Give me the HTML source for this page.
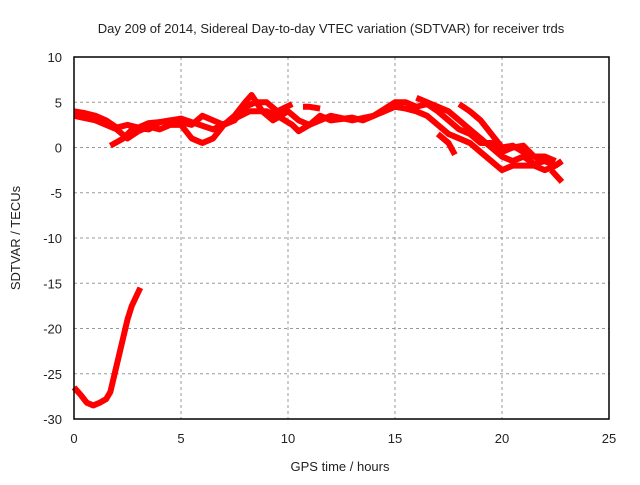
<!DOCTYPE html>
<html><head><meta charset="utf-8"><style>
body{margin:0;background:#fff}
svg text{font-family:"Liberation Sans",sans-serif;font-size:13px;fill:#222}
</style></head><body>
<svg id="c" width="640" height="480">
<text x="331" y="33" text-anchor="middle">Day 209 of 2014, Sidereal Day-to-day VTEC variation (SDTVAR) for receiver trds</text>
<text x="340" y="471" text-anchor="middle">GPS time / hours</text>
<text x="20" y="238" text-anchor="middle" transform="rotate(-90 20 238)">SDTVAR / TECUs</text>
<g id="grid"></g><g id="marks"></g>
<rect x="74" y="57" width="535" height="362" fill="none" stroke="#000" stroke-width="1.5"/>
</svg>
<script>
const xTicks=[0,5,10,15,20,25];
const yTicks=[10,5,0,-5,-10,-15,-20,-25,-30];
const trackLow=[[0,-26.5],[0.3,-27.3],[0.6,-28.2],[0.9,-28.5],[1.2,-28.2],[1.5,-27.8],[1.7,-27],[1.9,-25],[2.1,-23],[2.3,-21],[2.5,-19],[2.7,-17.5],[3.1,-15.5]];
const track1=[[0,4],[0.5,3.8],[1,3.5],[1.5,3],[2,2.2],[2.5,2.5],[3,2.2],[3.5,2.7],[4,2.8],[4.5,3],[5,2.8],[5.5,2.5],[6,3.5],[6.5,3],[7,2.5],[7.5,3.5],[8,5],[8.3,5.8],[8.8,4],[9.3,3],[10,4],[10.5,3],[11,2.5],[11.5,3.5],[12,3],[13,3.3],[13.5,3],[14,3.5],[14.5,4],[15,4.5],[15.5,4.3],[16,4],[16.5,3.5],[17,2.5],[17.5,1.5],[18,1],[18.5,0.5],[19,-0.5],[19.5,-1.5],[20,-2.5],[20.5,-2],[21,-2],[21.5,-2],[22,-2.5],[22.5,-2],[22.8,-1.5]];
const track2=[[0,3.5],[1,3],[1.5,2.5],[2,2],[2.5,1],[3,1.8],[3.5,2.3],[4,2],[4.5,2.5],[5,2.5],[5.5,1],[6,0.5],[6.5,1],[7,2.5],[7.5,3],[8,4.5],[8.5,5],[9,5],[9.5,4],[10.2,4.8]];
const track3=[[1.7,0.2],[2.3,1],[2.8,2.2],[3.5,2],[4,2.8],[5,3.2],[6.5,2],[8.2,4],[9,4],[9.5,3.5],[10.2,2.5],[10.5,1.8],[11,2.5],[12,3.5],[13,3],[14,3.5],[15,5],[15.5,5],[16,4.5],[16.5,4.8],[17,4],[17.5,3],[18,2],[18.5,1.5],[19,0.5],[19.5,0.5],[20,-0.5],[20.5,0],[21,0.2],[21.5,-1],[22,-1],[22.5,-1.5]];
const track4=[[16,5.5],[16.5,5],[17,4.5],[17.5,4],[18,3],[18.5,2],[19,1],[19.5,0],[20,-1],[20.5,-1.5],[21,-1],[21.5,-1.8],[22,-1.5],[22.5,-2],[22.8,-1.5]];
const track5=[[18,4.8],[18.5,4],[19,3],[19.5,1.5],[20,0],[20.5,0.2],[21,-0.5],[22,-1.5]];
const track6=[[17,1.5],[17.5,0.5],[17.8,-0.8]];
const track7=[[22.3,-2.5],[22.8,-3.8]];
const track8=[[10.7,4.5],[11,4.5],[11.5,4.3]];
const X=v=>74+v*535/25, Y=v=>57+(10-v)*362/40;
const NS='http://www.w3.org/2000/svg';
const svg=document.getElementById('c'),g=document.getElementById('grid'),m=document.getElementById('marks');
function mk(t,a,p){const e=document.createElementNS(NS,t);for(const k in a)e.setAttribute(k,a[k]);p.appendChild(e);return e;}
xTicks.forEach(t=>{
 if(t>0&&t<25){const l=mk('line',{x1:X(t),x2:X(t),y1:57,y2:419,stroke:'#999','stroke-dasharray':'3,3'},g);
 }
 const tx=mk('text',{x:X(t),y:443,'text-anchor':'middle'},svg);tx.textContent=t;
 
});
yTicks.forEach(t=>{
 if(t<10&&t>-30){const l=mk('line',{x1:74,x2:609,y1:Y(t),y2:Y(t),stroke:'#999','stroke-dasharray':'3,3'},g);
 }
 const tx=mk('text',{x:62,y:Y(t)+5,'text-anchor':'end'},svg);tx.textContent=t;
 
});
[trackLow,track1,track2,track3,track4,track5,track6,track7,track8].forEach(tr=>{
 const p=mk('polyline',{points:tr.map(d=>X(d[0])+','+Y(d[1])).join(' '),fill:'none',stroke:'#f00','stroke-width':6,'stroke-linejoin':'round'},m);
 
 
});
</script>
</body></html>
